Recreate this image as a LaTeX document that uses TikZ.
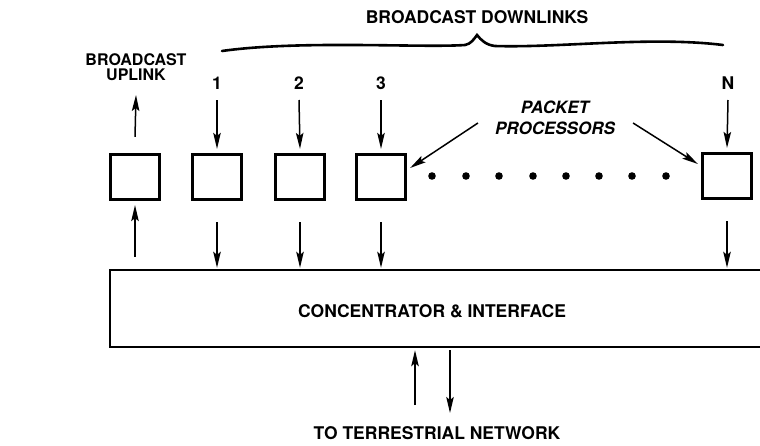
\documentclass[tikz,border=0pt]{standalone}
\usepackage{fontspec}
\setmainfont{TeX Gyre Heros}
\usetikzlibrary{arrows.meta,calc}
\begin{document}
\begin{tikzpicture}[x=1pt,y=-1pt,
  proc/.style={draw, line width=2.8pt, minimum width=49.4pt, minimum height=45.4pt, inner sep=0pt},
  lbl/.style={font=\bfseries\fontsize{17.5}{19}\selectfont, inner sep=0pt},
  smalllbl/.style={font=\bfseries\fontsize{16}{15}\selectfont, inner sep=0pt, align=center},
  itlbl/.style={font=\bfseries\itshape\fontsize{17}{19}\selectfont, inner sep=0pt},
  arr/.style={line width=1.5pt, -{Stealth[length=16pt,width=7.5pt,inset=3pt]}},
]
% canvas
\useasboundingbox (0,0) rectangle (760,445);
\fill[white] (0,0) rectangle (760,445);
\clip (0,0) rectangle (760,445);

% packet processors
\node[proc] (p0) at (135,177) {};
\node[proc] (p1) at (217,177) {};
\node[proc] (p2) at (300,177) {};
\node[proc] (p3) at (381,177) {};
\node[proc] (pN) at (727,176) {};

% ellipsis between processor 3 and N
\foreach \x in {432,466,499,533,566,599,632,666}
  \fill (\x,176) circle (3.8pt);

% concentrator (open on the right, runs off the edge)
\node[inner sep=0pt, minimum width=652pt, minimum height=77pt] (ci) at (436,308.5) {};
\draw[line width=2.2pt] (ci.north east) -- (ci.north west) -- (ci.south west) -- (ci.south east);
\node[lbl] (cit) at (432,311) {CONCENTRATOR \& INTERFACE};

% labels
\node[lbl] (bd) at (477,17) {BROADCAST DOWNLINKS};
\node[smalllbl] (ul) at (136,67) {BROADCAST\\UPLINK};
\node[lbl] (l1) at (217,83) {1};
\node[lbl] (l2) at (299,83) {2};
\node[lbl] (l3) at (381,83) {3};
\node[lbl] (lN) at (728,83) {N};
\node[itlbl] (pk) at (555,107) {PACKET};
\node[itlbl] (pp) at (555,128) {PROCESSORS};
\node[lbl] (terr) at (437,433) {TO TERRESTRIAL NETWORK};

% brace over the downlinks
\draw[line width=2.6pt, line cap=round]
  (222,51) .. controls (300,40) and (420,48) .. (465,45)
  .. controls (471,44) and (474,39) .. (477,35)
  .. controls (481,40) and (486,45) .. (495,46)
  .. controls (560,48) and (650,36) .. (723,45);

% uplink and downlinks
\draw[arr] ([yshift=16pt]p0.north) -- ([yshift=-28pt]ul.center);
\foreach \i in {1,2,3,N}
  \draw[arr] ([yshift=-17pt]l\i.center) -- ([yshift=4pt]p\i.north);

% processors to/from the concentrator
\draw[arr] ([yshift=13pt]p0.south |- ci.north) -- ([yshift=-4pt]p0.south);
\foreach \i in {1,2,3,N}
  \draw[arr] ([yshift=-21pt]p\i.south) -- ([yshift=2pt]p\i.south |- ci.north);

% callout arrows
\draw[arr] ([xshift=-17pt,yshift=5pt]pp.west) -- ([xshift=3pt,yshift=9pt]p3.east);
\draw[arr] ([xshift=18pt,yshift=5pt]pp.east) -- ([xshift=-3pt,yshift=12pt]pN.west);

% terrestrial link
\coordinate (tu) at (415,405);
\coordinate (td) at (450,413);
\draw[arr] (tu) -- ([yshift=-3pt]tu |- ci.south);
\draw[arr] ([yshift=-3pt]td |- ci.south) -- (td);
\end{tikzpicture}
\end{document}
